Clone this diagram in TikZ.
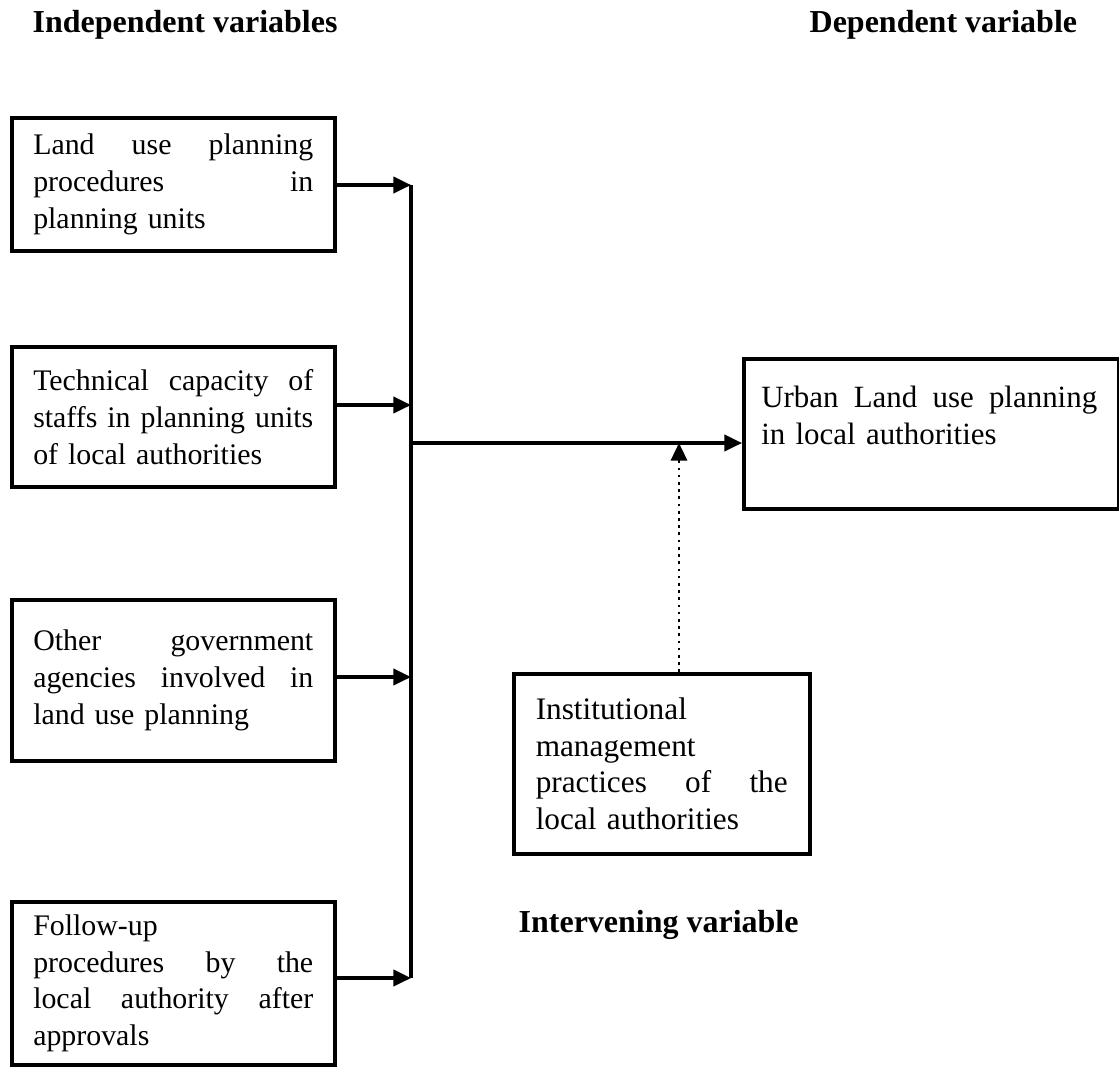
\documentclass[tikz,border=0pt]{standalone}
\usepackage{fontspec}
\setmainfont{Liberation Serif}
\usetikzlibrary{arrows.meta, positioning, calc}

% justified line: words split by \hfill
\newcommand{\jline}[2][2.80cm]{\makebox[#1][s]{#2}}

\begin{document}
\begin{tikzpicture}[
  varbox/.style={draw, line width=1pt, anchor=north west, align=left, text width=2.80cm, inner xsep=0.215cm, inner ysep=0pt, minimum width=3.23cm, font=\fontsize{8.5}{10.5}\selectfont},
  link/.style={line width=0.9pt, -{Triangle[length=5pt, width=4.6pt]}},
  heading/.style={anchor=west, inner sep=0pt, font=\fontsize{9.1}{11}\selectfont\bfseries}
]
\useasboundingbox (0,0) rectangle (11.19,-10.70);

% headings
\node[heading] (indep) at (0.32,-0.25) {Independent variables};
\node[heading] (dep) at (8.09,-0.25) {Dependent variable};
\node[heading] (interv) at (5.18,-9.25) {Intervening variable};

% independent variables
\node[varbox, minimum height=1.33cm] (plan) at (0.10,-1.16) {\jline{Land\hfill use\hfill planning}\\ \jline{procedures\hfill in}\\ planning units};
\node[varbox, minimum height=1.40cm] (staff) at (0.10,-3.45) {\jline{Technical\hfill capacity\hfill of}\\ \jline{staffs\hfill in\hfill planning\hfill units}\\ of local authorities};
\node[varbox, minimum height=1.61cm] (agency) at (0.10,-5.98) {\jline{Other\hfill government}\\ \jline{agencies\hfill involved\hfill in}\\ land use planning};
\node[varbox, minimum height=1.63cm] (follow) at (0.10,-9.00) {Follow-up\\ \jline{procedures\hfill by\hfill the}\\ \jline{local\hfill authority\hfill after}\\ approvals};

% dependent and intervening variables
\node[varbox, text width=3.40cm, inner xsep=0.175cm, minimum width=3.75cm, minimum height=1.50cm, font=\fontsize{8.8}{10.5}\selectfont] (urban) at (7.42,-3.57) {\jline[3.36cm]{Urban\hfill Land\hfill use\hfill planning}\\ in local authorities\\ \mbox{}};
\node[varbox, text width=2.52cm, inner xsep=0.22cm, minimum width=2.96cm, minimum height=1.80cm, font=\fontsize{8.9}{10.5}\selectfont] (inst) at (5.12,-6.72) {Institutional\\ management\\ \jline[2.52cm]{practices\hfill of\hfill the}\\ local authorities};

% joints on the bus line
\coordinate (j1) at (4.11,-1.85);
\coordinate (j2) at (4.11,-4.05);
\coordinate (j3) at (4.11,-6.77);
\coordinate (j4) at (4.11,-9.78);
\coordinate (jm) at (4.11,-4.43);
\coordinate (jd) at (6.79,-4.43);

\draw[line width=0.9pt] (j1) -- (j4);
\foreach \b/\j in {plan/j1, staff/j2, agency/j3, follow/j4}
  \draw[link] (\b.east |- \j) -- (\j);
\draw[link] (jm) -- (urban.west |- jm);
\draw[link, line width=0.75pt, dash pattern=on 0.75pt off 1.3pt] (inst.north -| jd) -- (jd);
\end{tikzpicture}
\end{document}
